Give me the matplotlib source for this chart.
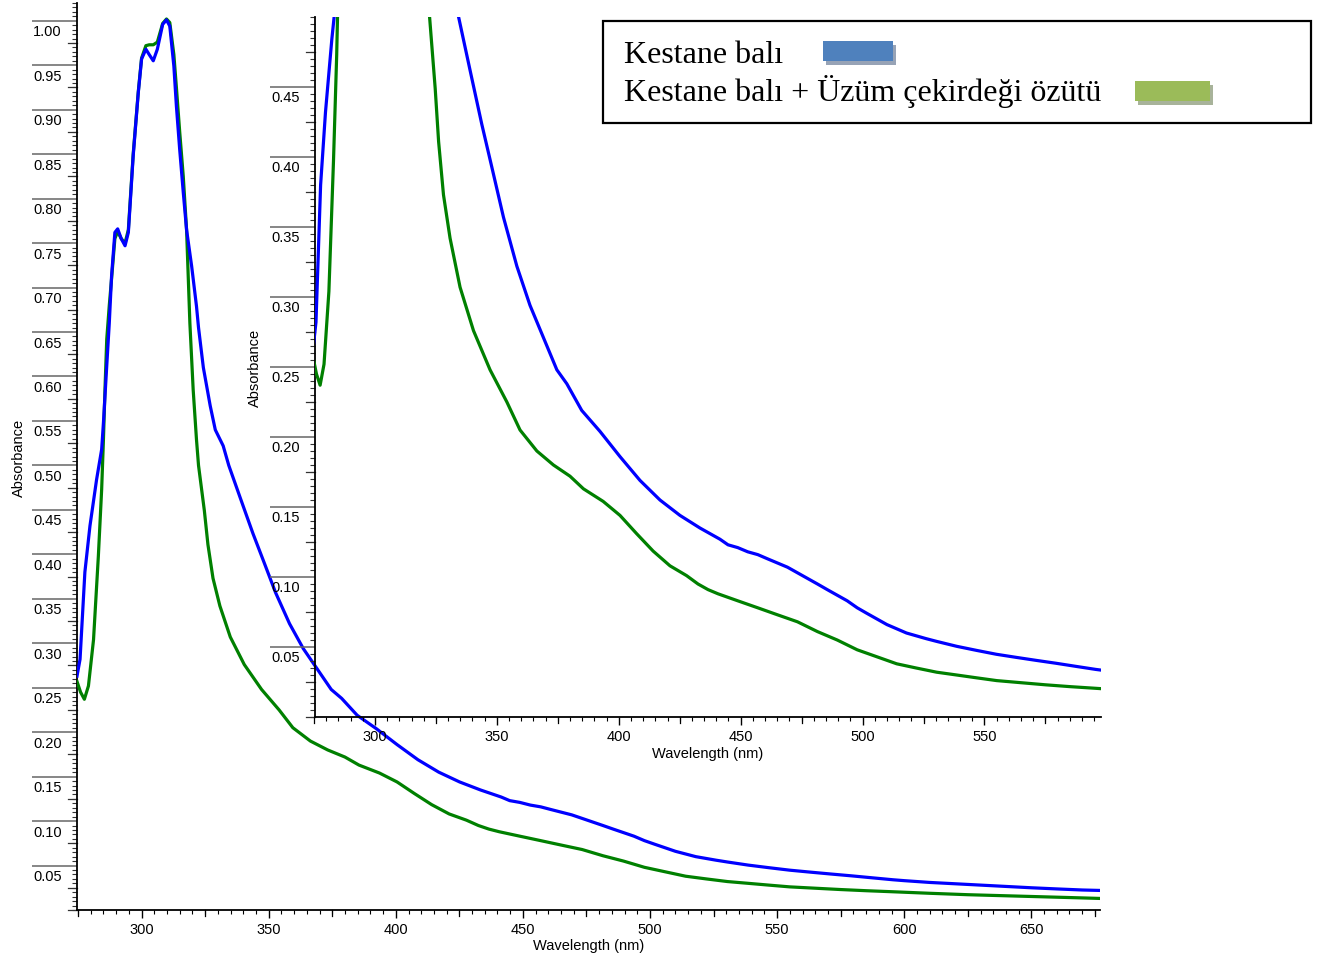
import matplotlib
matplotlib.use("Agg")
import matplotlib.pyplot as plt
from matplotlib.patches import Rectangle
from matplotlib.ticker import MultipleLocator, FixedLocator, NullFormatter
from matplotlib.transforms import ScaledTranslation

# --- data (wavelength nm, absorbance) ---------------------------------------
wl_blue = [274.6, 275.8, 277.7, 279.7, 282.3, 284.3, 285.0, 286.3, 287.3, 288.2,
           289.5, 290.6, 292.0, 293.5, 294.8, 296.7, 298.7, 300.0, 301.7, 303.0,
           304.6, 306.2, 308.3, 309.8, 311.1, 312.7, 313.7, 315.0, 316.4, 317.7,
           319.7, 321.6, 322.4, 324.3, 327.0, 329.0, 332.1, 334.3, 339.0, 343.8,
           347.9, 352.7, 358.2, 363.6, 369.1, 374.6, 378.7, 384.8, 392.3, 400.5,
           408.7, 416.9, 425.1, 433.3, 441.5, 444.8, 448.8, 452.9, 457.0, 461.0,
           465.1, 469.2, 473.3, 477.4, 481.5, 485.5, 489.6, 493.7, 497.8, 501.8,
           505.9, 510.0, 514.0, 518.0, 522.0, 526.0, 530.4, 538.6, 546.7, 554.9,
           563.0, 571.0, 579.3, 587.4, 595.6, 600.0, 610.0, 620.0, 630.0, 640.0,
           650.0, 660.0, 670.0, 677.0]
abs_blue = [0.263, 0.282, 0.380, 0.432, 0.484, 0.518, 0.548, 0.612, 0.660, 0.713,
            0.762, 0.766, 0.755, 0.747, 0.762, 0.848, 0.919, 0.957, 0.968, 0.962,
            0.955, 0.968, 0.996, 1.001, 0.994, 0.949, 0.904, 0.855, 0.807, 0.765,
            0.724, 0.679, 0.655, 0.610, 0.567, 0.540, 0.522, 0.500, 0.462, 0.4235,
            0.393, 0.357, 0.322, 0.294, 0.271, 0.248, 0.238, 0.219, 0.204, 0.186,
            0.169, 0.155, 0.144, 0.135, 0.127, 0.123, 0.121, 0.118, 0.116, 0.113,
            0.110, 0.107, 0.103, 0.099, 0.095, 0.091, 0.087, 0.083, 0.078, 0.074,
            0.070, 0.066, 0.063, 0.060, 0.058, 0.056, 0.054, 0.0505, 0.0476, 0.0448,
            0.0426, 0.0405, 0.0384, 0.0362, 0.034, 0.033, 0.031, 0.0295, 0.028, 0.0265,
            0.025, 0.0237, 0.0225, 0.022]

wl_green = [274.6, 276.0, 277.5, 279.1, 281.1, 283.0, 284.3, 285.0, 285.6, 286.3,
            287.3, 288.2, 289.5, 290.6, 292.0, 293.5, 294.8, 296.7, 298.7, 300.0,
            301.7, 303.0, 304.6, 306.2, 308.3, 309.8, 311.1, 312.7, 313.7, 315.0,
            316.4, 317.7, 319.0, 320.3, 321.6, 322.4, 324.7, 326.1, 328.1, 330.8,
            334.9, 340.4, 347.2, 354.1, 359.5, 366.4, 373.2, 380.0, 385.5, 393.6,
            400.5, 407.3, 414.1, 421.0, 427.8, 432.5, 436.6, 440.7, 448.8, 457.0,
            465.1, 473.3, 481.5, 489.6, 497.8, 505.9, 514.0, 522.0, 530.4, 538.6,
            546.7, 555.0, 565.0, 575.0, 585.0, 595.6, 610.0, 625.0, 640.0, 655.0,
            670.0, 677.0]
abs_green = [0.257, 0.245, 0.237, 0.252, 0.304, 0.398, 0.473, 0.529, 0.585, 0.642,
             0.680, 0.710, 0.755, 0.763, 0.755, 0.750, 0.765, 0.850, 0.920, 0.958,
             0.972, 0.973, 0.973, 0.976, 0.997, 1.002, 0.998, 0.962, 0.925, 0.875,
             0.825, 0.765, 0.660, 0.585, 0.529, 0.500, 0.449, 0.411, 0.373, 0.342,
             0.307, 0.276, 0.248, 0.225, 0.205, 0.190, 0.180, 0.172, 0.163, 0.154,
             0.144, 0.131, 0.1185, 0.108, 0.101, 0.095, 0.091, 0.088, 0.083, 0.078,
             0.073, 0.068, 0.061, 0.055, 0.048, 0.043, 0.038, 0.035, 0.032, 0.030,
             0.028, 0.026, 0.0245, 0.023, 0.0217, 0.0205, 0.0188, 0.0172, 0.016, 0.0148,
             0.0136, 0.013]

legend_labels = ["Kestane balı", "Kestane balı + Üzüm çekirdeği özütü"]

BLUE, GREEN = "#0000ff", "#008000"
TICKGRAY = "#666666"
plt.rcParams.update({"font.family": "Liberation Sans", "font.size": 10.5})

W, H = 1327, 962
fig = plt.figure(figsize=(W / 100, H / 100), dpi=100)


def px_axes(x0, y0, x1, y1):
    # pixel box (top-down) -> figure fraction
    return [x0 / W, 1 - y1 / H, (x1 - x0) / W, (y1 - y0) / H]


def style_axes(ax, xlim, ylim, xmajor, ymajor, wpx, hpx):
    ax.set_xlim(*xlim)
    ax.set_ylim(*ylim)
    ax.patch.set_alpha(0)
    for s in ("top", "right"):
        ax.spines[s].set_visible(False)
    for s in ("left", "bottom"):
        ax.spines[s].set_linewidth(1.3)
        ax.spines[s].set_color("black")
    ax.xaxis.set_major_locator(FixedLocator(xmajor))
    ax.xaxis.set_minor_locator(MultipleLocator(5))
    ax.yaxis.set_major_locator(FixedLocator(ymajor))
    ax.yaxis.set_minor_locator(MultipleLocator(0.005))
    ax.tick_params(axis="x", which="major", length=6, width=1.0, color="black",
                   direction="out", pad=3, labelsize=10.5)
    ax.tick_params(axis="x", which="minor", length=3, width=0.8, color="black")
    ax.tick_params(axis="y", which="major", length=32.5, width=1.1, color=TICKGRAY,
                   direction="out", labelleft=False)
    ax.tick_params(axis="y", which="minor", length=3.5, width=0.8, color="#333333")
    ax.yaxis.set_minor_formatter(NullFormatter())
    # y labels sit under the long major tick line
    tr = ax.get_yaxis_transform() + ScaledTranslation(-0.44, -0.035, fig.dpi_scale_trans)
    for v in ymajor:
        ax.text(0, v, f"{v:.2f}", transform=tr, ha="left", va="top", fontsize=10.5)
    # medium ticks every 25 nm / 0.025
    ytr = ax.get_yaxis_transform()
    xtr = ax.get_xaxis_transform()
    k = 0
    while k * 0.025 <= ylim[1] + 1e-9:
        v = k * 0.025
        if k % 2 == 1 or v == 0:
            ax.plot([-9 / wpx, 0], [v, v], transform=ytr, color="#333333",
                    lw=0.9, clip_on=False)
        k += 1
    for v in range(275, int(xlim[1]) + 1, 50):
        if v >= xlim[0] - 1:
            ax.plot([v, v], [-6 / hpx, 0], transform=xtr, color="black",
                    lw=0.9, clip_on=False)
    ax.set_xlabel("Wavelength (nm)", fontsize=10.5)
    ax.set_ylabel("Absorbance", fontsize=10.5)


# ---------------------------------------------------------------- main -----
ax = fig.add_axes(px_axes(77, 4, 1100, 911))
ax.plot(wl_green, abs_green, color=GREEN, lw=2.3, zorder=3)
ax.plot(wl_blue, abs_blue, color=BLUE, lw=2.3, zorder=4)
style_axes(ax, (274.6, 677), (0, 1.02), list(range(300, 651, 50)),
           [round(0.05 * i, 2) for i in range(1, 21)], 1023, 907)
ax.xaxis.set_label_coords(0.5, -0.031)
ax.yaxis.set_label_coords(-0.050, 0.5)

# ---------------------------------------------------------------- inset ----
axi = fig.add_axes(px_axes(315, 18, 1101, 718))
axi.plot(wl_green, abs_green, color=GREEN, lw=2.3, zorder=3)
axi.plot(wl_blue, abs_blue, color=BLUE, lw=2.3, zorder=4)
style_axes(axi, (275.4, 597.8), (0, 0.5), list(range(300, 551, 50)),
           [round(0.05 * i, 2) for i in range(1, 10)], 786, 700)
axi.xaxis.set_label_coords(0.5, -0.041)
axi.yaxis.set_label_coords(-0.067, 0.5)

# ---------------------------------------------------------------- legend ---
fig.patches.append(Rectangle((603 / W, 1 - 124 / H), 708 / W, 102 / H,
                             transform=fig.transFigure, fill=False,
                             edgecolor="black", lw=1.6))
swatches = [("#4f81bd", "#97a3b6", 823, 42, 70), ("#9bbb59", "#a8b39a", 1135, 82, 75)]
for (c, sh, x0, y0, w) in swatches:
    fig.patches.append(Rectangle(((x0 + 3) / W, 1 - (y0 + 24) / H), w / W, 20 / H,
                                 transform=fig.transFigure, color=sh, lw=0))
    fig.patches.append(Rectangle((x0 / W, 1 - (y0 + 20) / H), w / W, 20 / H,
                                 transform=fig.transFigure, color=c, lw=0))
for lab, base in zip(legend_labels, [63, 101]):
    fig.text(624 / W, 1 - base / H, lab, family="Liberation Serif", fontsize=23,
             va="baseline", ha="left")

fig.savefig("out.png", dpi=100, facecolor="white")
